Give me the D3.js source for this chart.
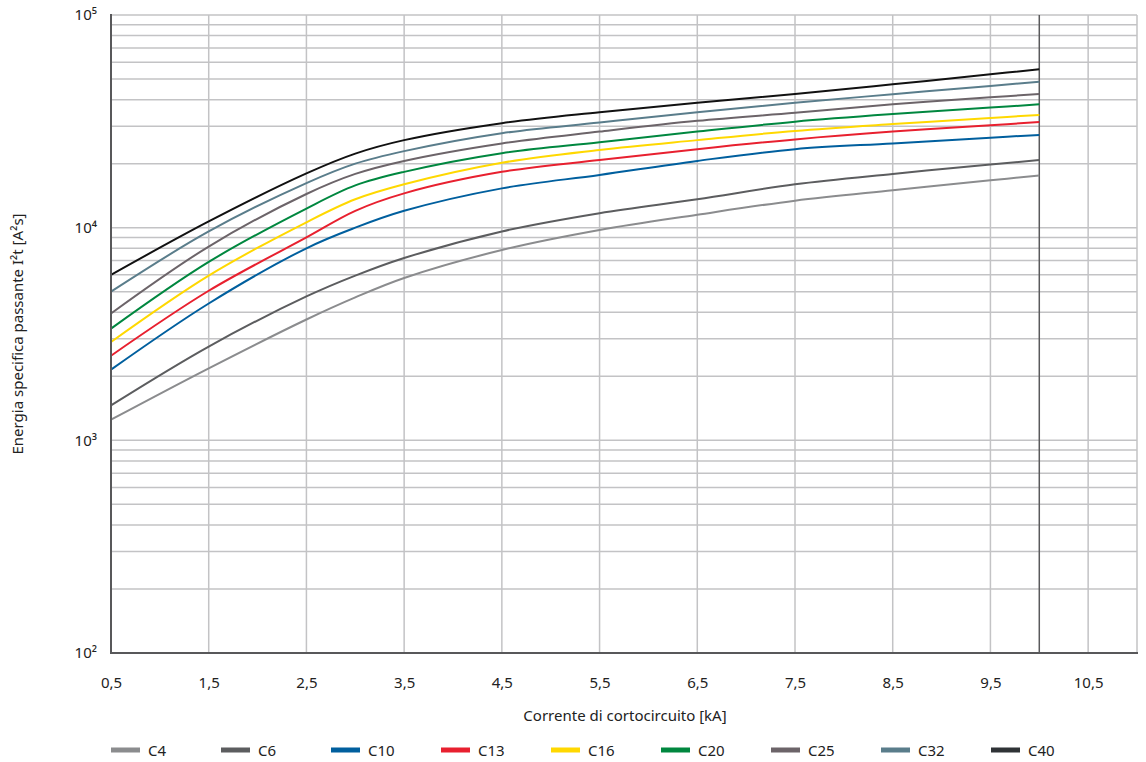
<!DOCTYPE html>
<html lang="it">
<head>
<meta charset="UTF-8">
<style>
    body {margin: 0; background: #fff; font-family: "Noto Sans", "Open Sans", sans-serif;}
    text {fill: #222;}
</style>
</head>
<body>
<div id="chart"></div>
<script src="https://d3js.org/d3.v7.min.js"></script>
<script>
// corrente di cortocircuito [kA]
var currents = [0.5, 1.5, 2.5, 3, 3.5, 4.5, 5.5, 6.5, 7.5, 8.5, 9.5, 10];

// I2t [A2s]
var c4  = [1250, 2180, 3700, 4700, 5800, 7850, 9750, 11500, 13400, 15000, 16700, 17600];
var c6  = [1460, 2760, 4750, 5950, 7200, 9600, 11700, 13600, 16000, 17900, 19800, 20800];
var c10 = [2150, 4400, 8000, 10000, 12000, 15300, 17700, 20600, 23400, 24900, 26500, 27300];
var c13 = [2500, 5050, 9000, 12000, 14500, 18300, 20800, 23400, 26000, 28300, 30300, 31400];
var c16 = [2900, 5950, 10600, 13600, 16000, 20200, 23200, 25800, 28500, 30700, 32800, 33900];
var c20 = [3350, 6900, 12300, 15800, 18300, 22400, 25200, 28300, 31500, 34200, 36700, 38000];
var c25 = [3950, 8150, 14400, 17900, 20600, 24900, 28300, 31800, 34700, 38000, 41000, 42500];
var c32 = [5000, 9600, 16200, 20000, 22900, 27800, 31200, 34900, 38700, 42400, 46400, 48600];
var c40 = [6000, 10700, 18000, 22300, 25800, 31000, 34900, 38700, 42500, 47200, 52600, 55600];

var names = ["C4", "C6", "C10", "C13", "C16", "C20", "C25", "C32", "C40"];
var colors = ["#8b8c8e", "#5c5d5f", "#005f9e", "#e8202f", "#ffd800", "#00873f", "#6c6469", "#5a7d8b", "#111111"];
var legendColors = ["#8b8c8e", "#5c5d5f", "#005f9e", "#e8202f", "#ffd800", "#00873f", "#6c6469", "#5a7d8b", "#2f3336"];
var seriesValues = [c4, c6, c10, c13, c16, c20, c25, c32, c40];

var xTicks = [0.5, 1.5, 2.5, 3.5, 4.5, 5.5, 6.5, 7.5, 8.5, 9.5, 10.5];
var yTicks = [100, 1000, 10000, 100000];
var supers = {"2": "\u00b2", "3": "\u00b3", "4": "\u2074", "5": "\u2075"};

var W = 1146, H = 762;
var plotLeft = 111, plotRight = 1137, plotTop = 15, plotBottom = 653;
var fontSize = "15px";

var svg = d3.select("#chart").append("svg")
    .attr("width", W)
    .attr("height", H);

var x = d3.scaleLinear().domain([0.5, 11]).range([plotLeft, plotRight]);
var y = d3.scaleLog().domain([100, 100000]).range([plotBottom, plotTop]);

// horizontal grid (log minor lines)
var yGrid = [];
[100, 1000, 10000].forEach(function (d) {
    for (var k = 1; k <= 9; k++) yGrid.push(d * k);
});
yGrid.push(100000);

svg.append("g").selectAll("line")
    .data(yGrid)
    .enter().append("line")
    .attr("x1", plotLeft).attr("x2", plotRight)
    .attr("y1", function (d) { return y(d); })
    .attr("y2", function (d) { return y(d); })
    .attr("stroke", "#c3c3c5")
    .attr("stroke-width", 1.5);

// vertical grid
svg.append("g").selectAll("line")
    .data(xTicks.concat([11]))
    .enter().append("line")
    .attr("x1", function (d) { return x(d); })
    .attr("x2", function (d) { return x(d); })
    .attr("y1", plotTop).attr("y2", plotBottom)
    .attr("stroke", "#c3c3c5")
    .attr("stroke-width", 1.5);

// limit at 10 kA
svg.append("line")
    .attr("x1", x(10)).attr("x2", x(10))
    .attr("y1", plotTop).attr("y2", plotBottom)
    .attr("stroke", "#5a5a5c")
    .attr("stroke-width", 1.5);

// curves
var line = d3.line()
    .x(function (d) { return x(d[0]); })
    .y(function (d) { return y(d[1]); })
    .curve(d3.curveCatmullRom.alpha(0.5));

seriesValues.forEach(function (vals, i) {
    svg.append("path")
        .datum(currents.map(function (c, j) { return [c, vals[j]]; }))
        .attr("d", line)
        .attr("fill", "none")
        .attr("stroke", colors[i])
        .attr("stroke-width", 2);
});

// axes
var xAxis = svg.append("g")
    .attr("transform", "translate(0," + plotBottom + ")")
    .call(d3.axisBottom(x).tickValues(xTicks).tickSize(0).tickPadding(24)
        .tickFormat(function (d) { return String(d).replace(".", ","); }));
xAxis.select(".domain").remove();
xAxis.selectAll("text")
    .style("font-size", fontSize)
    .style("font-family", "Noto Sans, sans-serif")
    .attr("fill", "#222");

var yAxis = svg.append("g")
    .attr("transform", "translate(" + plotLeft + ",0)")
    .call(d3.axisLeft(y).tickValues(yTicks).tickSize(0).tickPadding(14)
        .tickFormat(function (d) { return "10" + supers[String(Math.round(Math.log10(d)))]; }));
yAxis.select(".domain").remove();
yAxis.selectAll("text")
    .style("font-size", fontSize)
    .style("font-family", "Noto Sans, sans-serif")
    .attr("fill", "#222");

svg.append("line")
    .attr("x1", plotLeft).attr("x2", plotLeft)
    .attr("y1", plotTop - 1).attr("y2", plotBottom + 1)
    .attr("stroke", "#58585a").attr("stroke-width", 2);
svg.append("line")
    .attr("x1", plotLeft - 1).attr("x2", plotRight + 1)
    .attr("y1", plotBottom).attr("y2", plotBottom)
    .attr("stroke", "#58585a").attr("stroke-width", 2);

// axis titles
svg.append("text")
    .attr("x", (plotLeft + plotRight) / 2 + 1)
    .attr("y", 721)
    .attr("text-anchor", "middle")
    .style("font-size", fontSize)
    .text("Corrente di cortocircuito [kA]");

svg.append("text")
    .attr("transform", "translate(23," + ((plotTop + plotBottom) / 2) + ") rotate(-90)")
    .attr("text-anchor", "middle")
    .style("font-size", fontSize)
    .text("Energia specifica passante I\u00b2t [A\u00b2s]");

// legend
var legend = svg.append("g").attr("transform", "translate(111,750)");
names.forEach(function (n, i) {
    var g = legend.append("g").attr("transform", "translate(" + (i * 110) + ",0)");
    g.append("rect")
        .attr("x", 0).attr("y", -2.5)
        .attr("width", 29).attr("height", 5)
        .attr("fill", legendColors[i]);
    g.append("text")
        .attr("x", 37).attr("y", 5.5)
        .style("font-size", fontSize)
        .text(n);
});
</script>
</body>
</html>
